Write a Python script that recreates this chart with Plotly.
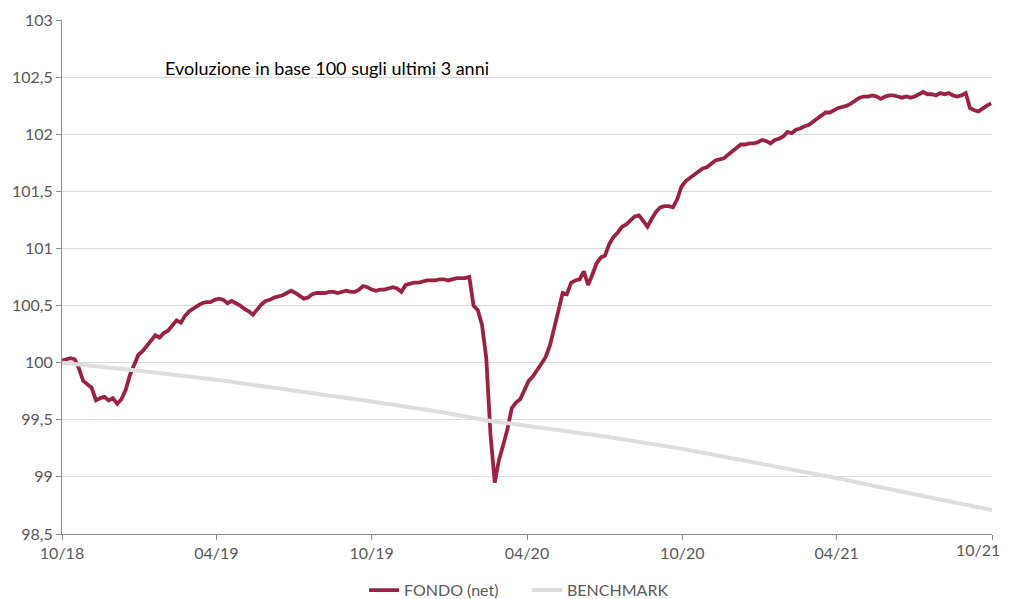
import pandas as pd
import plotly.graph_objects as go

# ---- data -------------------------------------------------------------
fund_start = "2018-10-01"
fund_step = "5D"
fund_values = [
    100.02, 100.03, 100.04, 100.03, 99.95, 99.84, 99.81, 99.78, 99.67, 99.69,
    99.70, 99.67, 99.69, 99.64, 99.68, 99.76, 99.89, 99.99, 100.07, 100.10,
    100.15, 100.19, 100.24, 100.22, 100.26, 100.28, 100.32, 100.37, 100.35, 100.41,
    100.45, 100.48, 100.50, 100.52, 100.53, 100.53, 100.55, 100.56, 100.55, 100.52,
    100.54, 100.52, 100.50, 100.47, 100.45, 100.42, 100.47, 100.51, 100.54, 100.55,
    100.57, 100.58, 100.59, 100.61, 100.63, 100.61, 100.58, 100.56, 100.57, 100.60,
    100.61, 100.61, 100.61, 100.62, 100.62, 100.61, 100.62, 100.63, 100.62, 100.62,
    100.64, 100.67, 100.66, 100.64, 100.63, 100.64, 100.64, 100.65, 100.66, 100.65,
    100.62, 100.68, 100.69, 100.70, 100.70, 100.71, 100.72, 100.72, 100.72, 100.73,
    100.73, 100.72, 100.73, 100.74, 100.74, 100.74, 100.75, 100.50, 100.46, 100.33,
    100.04, 99.37, 98.95, 99.15, 99.28, 99.42, 99.60, 99.65, 99.68, 99.76,
    99.84, 99.88, 99.93, 99.99, 100.05, 100.15, 100.30, 100.47, 100.61, 100.60,
    100.70, 100.72, 100.73, 100.80, 100.68, 100.77, 100.87, 100.92, 100.94, 101.04,
    101.10, 101.14, 101.19, 101.21, 101.24, 101.28, 101.29, 101.24, 101.19, 101.26,
    101.32, 101.36, 101.37, 101.37, 101.36, 101.43, 101.54, 101.59, 101.62, 101.64,
    101.68, 101.70, 101.71, 101.74, 101.77, 101.78, 101.79, 101.82, 101.85, 101.87,
    101.91, 101.91, 101.92, 101.92, 101.93, 101.95, 101.94, 101.92, 101.95, 101.96,
    101.98, 102.02, 102.01, 102.04, 102.05, 102.07, 102.08, 102.11, 102.14, 102.16,
    102.19, 102.19, 102.21, 102.23, 102.24, 102.25, 102.27, 102.30, 102.32, 102.33,
    102.33, 102.34, 102.33, 102.31, 102.33, 102.34, 102.34, 102.33, 102.32, 102.33,
    102.32, 102.33, 102.35, 102.37, 102.35, 102.35, 102.34, 102.36, 102.35, 102.36,
    102.34, 102.33, 102.34, 102.36, 102.23, 102.21, 102.20, 102.23, 102.25, 102.27,
]

bench_dates = [
    "2018-10-01", "2018-12-31", "2019-04-01", "2019-07-10", "2019-10-01",
    "2019-12-20", "2020-02-18", "2020-04-02", "2020-05-10", "2020-06-26",
    "2020-08-12", "2020-10-01", "2020-12-08", "2021-02-18", "2021-04-01",
    "2021-06-14", "2021-08-12", "2021-10-01",
]
bench_values = [
    100.00, 99.93, 99.85, 99.75, 99.66,
    99.57, 99.49, 99.445, 99.41, 99.36,
    99.305, 99.245, 99.15, 99.05, 98.99,
    98.875, 98.79, 98.71,
]

x_tick_dates = ["2018-10-01", "2019-04-01", "2019-10-01", "2020-04-01",
                "2020-10-01", "2021-04-01", "2021-10-01"]
x_tick_labels = ["10/18", "04/19", "10/19", "04/20", "10/20", "04/21", "10/21"]
y_tick_values = [98.5, 99, 99.5, 100, 100.5, 101, 101.5, 102, 102.5, 103]
y_tick_labels = ["98,5", "99", "99,5", "100", "100,5", "101", "101,5", "102", "102,5", "103"]

title_text = "Evoluzione in base 100 sugli ultimi 3 anni"

# ---- figure -----------------------------------------------------------
fund_dates = pd.date_range(fund_start, periods=len(fund_values), freq=fund_step)

FONT = "Lato"
GRAY_TXT = "#595959"

fig = go.Figure()
fig.add_trace(go.Scatter(
    x=fund_dates, y=fund_values, mode="lines", name="FONDO (net)",
    line=dict(color="#9B2342", width=3.8),
))
fig.add_trace(go.Scatter(
    x=pd.to_datetime(bench_dates), y=bench_values, mode="lines", name="BENCHMARK",
    line=dict(color="#DDDDDD", width=4),
))

# the last x label sits at the right edge: draw it as an annotation so it
# can be nudged inside the visible area instead of being clipped
axis_labels = x_tick_labels[:-1] + [""]
edge_label = dict(
    text=x_tick_labels[-1], x=pd.Timestamp(x_tick_dates[-1]), xref="x",
    y=0, yref="paper", yshift=-4, xshift=10,
    xanchor="right", yanchor="top", showarrow=False,
    font=dict(family=FONT, size=16, color=GRAY_TXT),
)

fig.update_layout(
    width=1011, height=591,
    margin=dict(l=54, r=27, t=12, b=65, autoexpand=False),
    paper_bgcolor="white", plot_bgcolor="white",
    font=dict(family=FONT, size=16, color=GRAY_TXT),
    showlegend=True,
    legend=dict(orientation="h", x=0.5, xanchor="center",
                yref="container", y=0.015, yanchor="middle",
                font=dict(family=FONT, size=16, color=GRAY_TXT),
                itemwidth=30, tracegroupgap=0, entrywidth=118),
    annotations=[
        dict(
            text=title_text, x=0.1086, xref="paper", y=0.9066, yref="paper",
            xanchor="left", yanchor="middle", showarrow=False,
            font=dict(family=FONT, size=18, color="#000000"),
        ),
        edge_label,
    ],
)

fig.update_xaxes(
    type="date",
    range=[pd.Timestamp("2018-10-01"), pd.Timestamp("2021-10-01")],
    tickvals=pd.to_datetime(x_tick_dates), ticktext=axis_labels,
    showgrid=False, showline=True, linecolor="#8C8C8C", linewidth=1,
    ticks="outside", ticklen=5, tickcolor="#8C8C8C",
    tickfont=dict(family=FONT, size=16, color=GRAY_TXT),
    zeroline=False,
)
fig.update_yaxes(
    range=[98.5, 103],
    tickvals=y_tick_values, ticktext=y_tick_labels,
    showgrid=True, gridcolor="#D9D9D9", gridwidth=1,
    showline=True, linecolor="#8C8C8C", linewidth=1,
    ticks="outside", ticklen=5, tickcolor="#8C8C8C",
    tickfont=dict(family=FONT, size=16, color=GRAY_TXT),
    zeroline=False,
)

fig.write_html("out.html")
